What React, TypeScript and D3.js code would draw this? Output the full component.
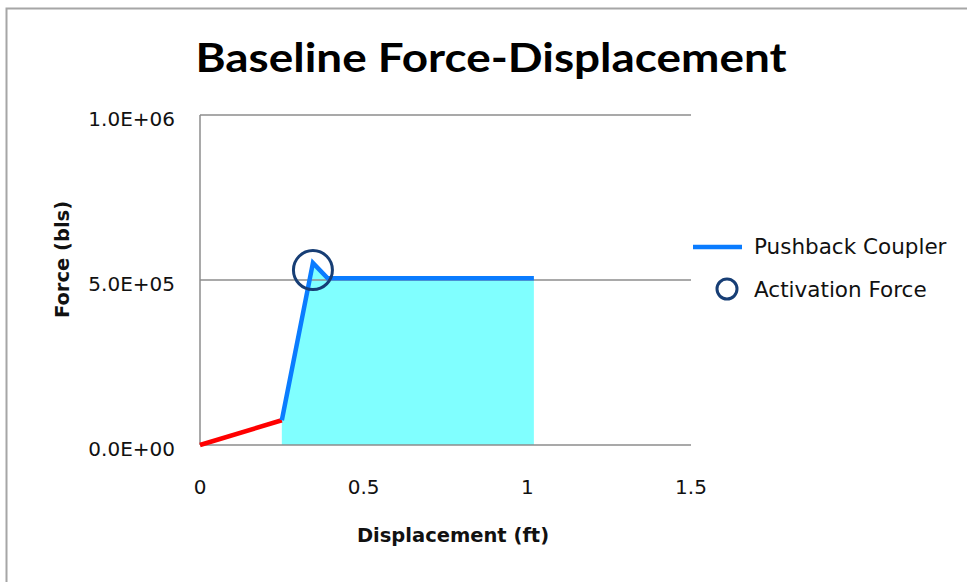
import React from "react";
import * as d3 from "d3";

const redX = [0, 0.25];
const redY = [0, 75000];
const blueX = [0.25, 0.345, 0.39, 1.02];
const blueY = [75000, 552000, 505000, 505000];
const activationX = [0.345];
const activationY = [530000];
const xTicks = [0, 0.5, 1, 1.5];
const xTickLabels = ["0", "0.5", "1", "1.5"];
const yTicks = [0, 500000, 1000000];
const yTickLabels = ["0.0E+00", "5.0E+05", "1.0E+06"];
const legendLabels = ["Pushback Coupler", "Activation Force"];

const W = 967;
const H = 582;
const left = 200, right = 691, top = 115, bottom = 445;

export default function App() {
  const x = d3.scaleLinear().domain([0, 1.5]).range([left, right]);
  const y = d3.scaleLinear().domain([0, 1000000]).range([bottom, top]);
  const red = redX.map((v, i) => [v, redY[i]] as [number, number]);
  const blue = blueX.map((v, i) => [v, blueY[i]] as [number, number]);
  const line = d3.line<[number, number]>().x(d => x(d[0])).y(d => y(d[1]));
  const area = d3.area<[number, number]>().x(d => x(d[0])).y0(y(0)).y1(d => y(d[1]));
  const tickFont = "'DejaVu Sans', Verdana, sans-serif";
  return (
    <svg width={W} height={H} style={{ position: "absolute", left: 0, top: 0, display: "block", background: "#fff" }}>
      <rect x={6.5} y={8.5} width={W + 10} height={H + 10} fill="#fff" stroke="#a6a6a6" strokeWidth={2} />
      <text x={491} y={72} textAnchor="middle" fontFamily="Lato, 'Open Sans', sans-serif" fontWeight="bold" fontSize={40} textLength={591} lengthAdjust="spacingAndGlyphs" fill="#000">
        Baseline Force-Displacement
      </text>
      <path d={area(blue) || ""} fill="#80FFFF" />
      {yTicks.map((t, i) => (
        <line key={i} x1={left} x2={right} y1={y(t)} y2={y(t)} stroke="#8c8c8c" strokeWidth={1.5} />
      ))}
      <line x1={left} x2={left} y1={top} y2={bottom} stroke="#8c8c8c" strokeWidth={1.5} />
      {yTicks.map((t, i) => (
        <text key={i} x={175} y={y(t) + 4} dy="0.35em" textAnchor="end" fontFamily={tickFont} fontSize={20} fill="#111">
          {yTickLabels[i]}
        </text>
      ))}
      {xTicks.map((t, i) => (
        <text key={i} x={x(t)} y={487} dy="0.35em" textAnchor="middle" fontFamily={tickFont} fontSize={20} fill="#111">
          {xTickLabels[i]}
        </text>
      ))}
      <path d={line(red) || ""} fill="none" stroke="#FF0000" strokeWidth={4.5} />
      <path d={line(blue) || ""} fill="none" stroke="#0A7CFF" strokeWidth={4.5} />
      {activationX.map((v, i) => (
        <circle key={i} cx={x(v)} cy={y(activationY[i])} r={19.5} fill="none" stroke="#173E75" strokeWidth={3} />
      ))}
      <text x={453} y={542} textAnchor="middle" fontFamily={tickFont} fontWeight="bold" fontSize={19.5} fill="#111">
        Displacement (ft)
      </text>
      <text transform="translate(62.5,259.5) rotate(-90)" dy="0.35em" textAnchor="middle" fontFamily={tickFont} fontWeight="bold" fontSize={19.5} fill="#111">
        Force (bls)
      </text>
      <line x1={693} x2={742} y1={247} y2={247} stroke="#0A7CFF" strokeWidth={4.5} />
      <text x={754} y={246} dy="0.35em" fontFamily={tickFont} fontSize={21.5} fill="#111">{legendLabels[0]}</text>
      <circle cx={727} cy={289} r={10} fill="none" stroke="#173E75" strokeWidth={3} />
      <text x={754} y={289.5} dy="0.35em" fontFamily={tickFont} fontSize={21.5} fill="#111">{legendLabels[1]}</text>
    </svg>
  );
}
